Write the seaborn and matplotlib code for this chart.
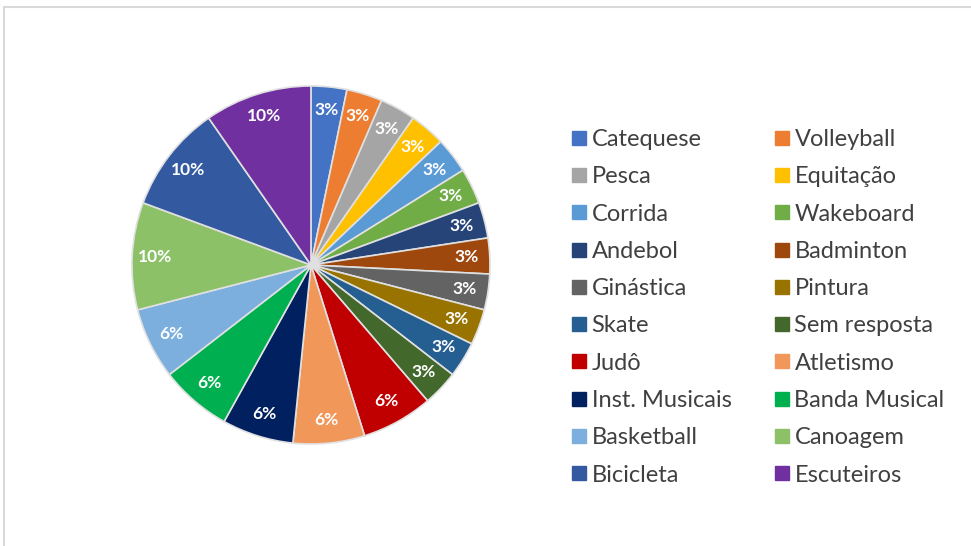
"""
Pie chart of activity preferences (share of answers per activity),
with a two-column legend on the right, styled after the Excel original.
"""

import matplotlib
matplotlib.use("Agg")
import matplotlib.pyplot as plt
from matplotlib.lines import Line2D
import seaborn as sns

activities = [
    "Catequese", "Volleyball", "Pesca", "Equitação", "Corrida", "Wakeboard",
    "Andebol", "Badminton", "Ginástica", "Pintura", "Skate", "Sem resposta",
    "Judô", "Atletismo", "Inst. Musicais", "Banda Musical", "Basketball",
    "Canoagem", "Bicicleta", "Escuteiros",
]
counts = [1, 1, 1, 1, 1, 1, 1, 1, 1, 1, 1, 1, 2, 2, 2, 2, 2, 3, 3, 3]
slice_colors = [
    "#4472C4", "#ED7D31", "#A5A5A5", "#FFC000", "#5B9BD5", "#70AD47",
    "#264478", "#9E480E", "#636363", "#997300", "#255E91", "#43682B",
    "#C00000", "#F1975A", "#002060", "#00B050", "#7CAFDD",
    "#8CC168", "#335AA1", "#7030A0",
]

sns.set_theme(style="white")
plt.rcParams["font.family"] = ["Lato", "DejaVu Sans"]

palette = sns.color_palette(slice_colors)

fig = plt.figure(figsize=(9.71, 5.46), dpi=100)
fig.patch.set_facecolor("white")

# pie centred at ~(311, 265) px with radius ~179 px
ax = fig.add_axes([0.1359, 0.1868, 0.3687, 0.6557])
wedges, _, autotexts = ax.pie(
    counts,
    colors=palette,
    startangle=90,
    counterclock=False,
    autopct=lambda p: f"{p:.0f}%",
    pctdistance=0.87,
    wedgeprops=dict(edgecolor="#E0E0E0", linewidth=1.2),
    textprops=dict(color="white", fontsize=12.5, fontweight="bold"),
)
ax.set_xlim(-1, 1)
ax.set_ylim(-1, 1)
ax.set_aspect("equal")
ax.axis("off")

handles = [
    Line2D([0], [0], marker="s", linestyle="", markersize=9.5,
           markerfacecolor=c, markeredgecolor=c)
    for c in palette
]
# legend fills column by column; reorder so it reads row by row like Excel
order = list(range(0, len(activities), 2)) + list(range(1, len(activities), 2))
fig.legend(
    [handles[i] for i in order], [activities[i] for i in order],
    loc="upper left",
    bbox_to_anchor=(571 / 971, 1 - 129 / 546),
    ncol=2,
    frameon=False,
    fontsize=17,
    labelcolor="#404040",
    handlelength=0.7,
    handletextpad=0.17,
    columnspacing=1.8,
    labelspacing=0.69,
    borderaxespad=0,
    borderpad=0,
)

# thin chart-area border (top and left edges visible in the original)
fig.add_artist(Line2D([4 / 971, 1], [1 - 7 / 546, 1 - 7 / 546],
                      transform=fig.transFigure, color="#D9D9D9", linewidth=1.5))
fig.add_artist(Line2D([4 / 971, 4 / 971], [0, 1 - 7 / 546],
                      transform=fig.transFigure, color="#D9D9D9", linewidth=1.5))

fig.savefig("out.png", dpi=100)
